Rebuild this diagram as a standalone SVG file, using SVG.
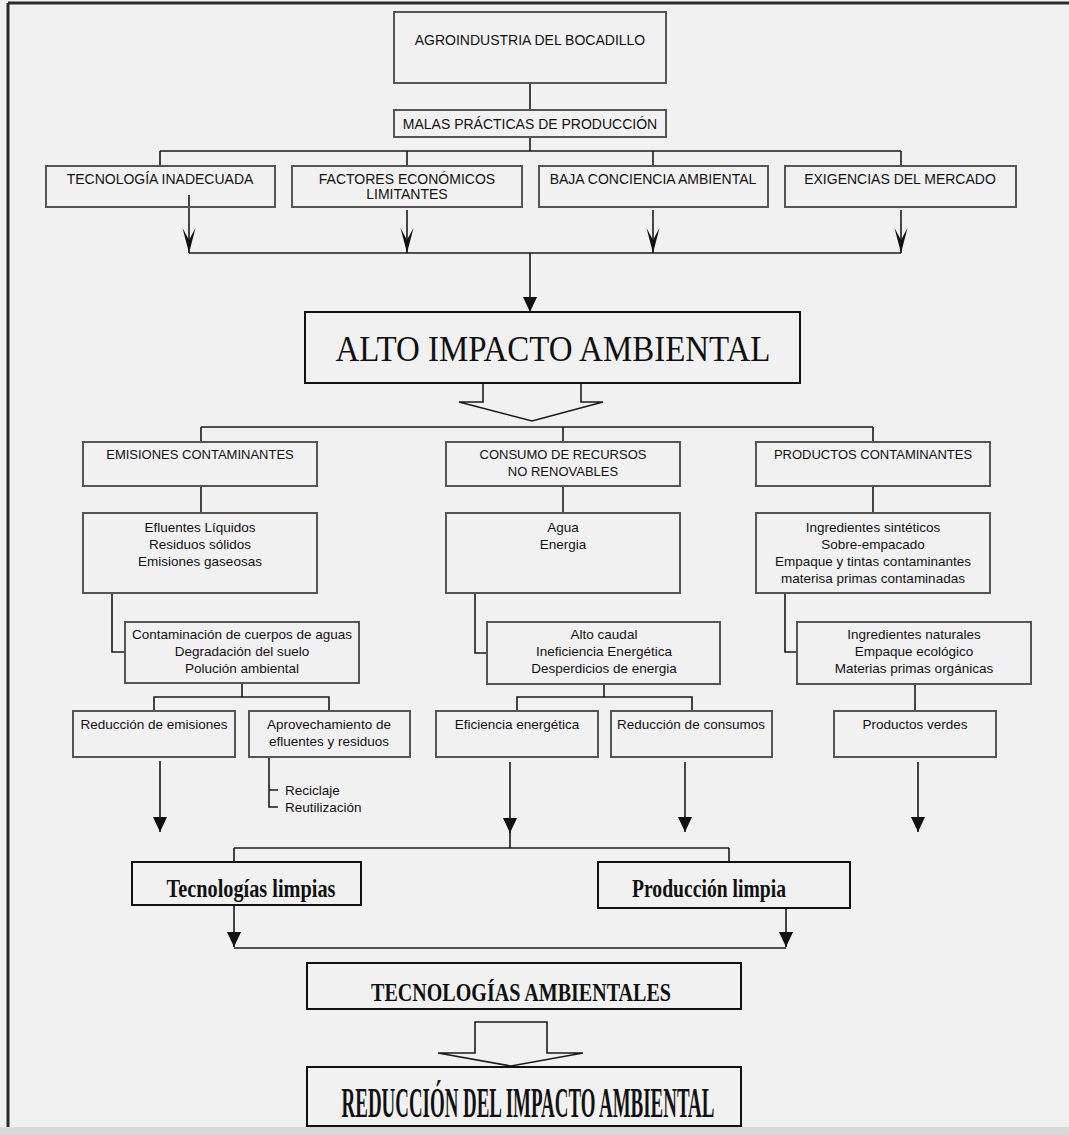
<svg xmlns="http://www.w3.org/2000/svg" width="1069" height="1135" viewBox="0 0 1069 1135">
<style>
.bx{fill:none;stroke:#555;stroke-width:2}
.bk{fill:none;stroke:#111;stroke-width:2}
.t{font-family:"Liberation Sans",Arial,sans-serif;fill:#111;text-anchor:middle}
.l{font-family:"Liberation Sans",Arial,sans-serif;fill:#111;font-size:13.5px}
.u14{font-size:14px}
.u13{font-size:13px}
.m{font-size:13.5px}
.sf{font-family:"Liberation Serif","Times New Roman",serif;fill:#111;text-anchor:middle}
.ln{fill:none;stroke:#1a1a1a;stroke-width:1.6}
</style>
<defs>
<marker id="barb" viewBox="0 0 25 14" markerWidth="25" markerHeight="14" refX="25" refY="7" orient="auto" markerUnits="userSpaceOnUse">
<path d="M25,7 L0,0.5 L12,7 L0,13.5 Z" fill="#111"/>
</marker>
<marker id="tri" viewBox="0 0 15 14" markerWidth="15" markerHeight="14" refX="15" refY="7" orient="auto" markerUnits="userSpaceOnUse">
<path d="M15,7 L0,0 L0,14 Z" fill="#111"/>
</marker>
</defs>
<rect x="0" y="0" width="1069" height="1135" fill="#f1f1f1"/>
<rect x="0" y="1127" width="1069" height="8" fill="#d9d9d9"/>
<path d="M8,3 H1069 M8,3 V1127" fill="none" stroke="#2a2a2a" stroke-width="3"/>
<g id="connectors">
<path class="ln" d="M530,83 V110 M530,137 V151 M160,151 H901 M160,151 V166 M407,151 V166 M653,151 V166 M901,151 V166"/>
<path class="ln" marker-end="url(#barb)" d="M189,195 V253"/>
<path class="ln" marker-end="url(#barb)" d="M407,210 V253"/>
<path class="ln" marker-end="url(#barb)" d="M653,210 V253"/>
<path class="ln" marker-end="url(#barb)" d="M901,210 V253"/>
<path class="ln" d="M189,253 H901"/>
<path class="ln" marker-end="url(#tri)" d="M530,253 V312"/>
<path class="ln" d="M483,383 V402 H459 L532,421 L603,402 H581 V383"/>
<path class="ln" d="M201,427 H873 M201,427 V442 M563,427 V442 M873,427 V442"/>
<path class="ln" d="M201,486 V513 M563,486 V513 M873,486 V513"/>
<path class="ln" d="M112,593 V652 H125 M475,593 V653 H487 M785,593 V652 H797"/>
<path class="ln" d="M242,683 V697 M154,711 V697 H329 V711 M604,684 V697 M517,711 V697 H692 V711 M915,684 V711"/>
<path class="ln" d="M269,757 V807 H278 M269,790 H278"/>
<path class="ln" marker-end="url(#tri)" d="M160,761 V832"/>
<path class="ln" marker-end="url(#tri)" d="M510,762 V833"/>
<path class="ln" d="M510,830 V848"/>
<path class="ln" marker-end="url(#tri)" d="M685,762 V832"/>
<path class="ln" marker-end="url(#tri)" d="M918,762 V832"/>
<path class="ln" d="M234,848 H729 M234,848 V862 M729,848 V862"/>
<path class="ln" marker-end="url(#tri)" d="M234,905 V947"/>
<path class="ln" marker-end="url(#tri)" d="M786,908 V947"/>
<path class="ln" d="M234,948 H786"/>
<path class="ln" d="M475,1022 H547 V1053 H583 L511,1066 L438,1053 H475 Z"/>
</g>
<g id="agroindustria"><rect class="bx" x="394" y="12" width="272" height="71"/><text class="t u14" x="530" y="45">AGROINDUSTRIA DEL BOCADILLO</text></g>
<g id="malas-practicas"><rect class="bx" x="394" y="110" width="272" height="27"/><text class="t u14" x="530" y="129">MALAS PRÁCTICAS DE PRODUCCIÓN</text></g>
<g id="tecnologia-inadecuada"><rect class="bx" x="46" y="166" width="229" height="41"/><text class="t u14" x="160" y="184">TECNOLOGÍA INADECUADA</text></g>
<g id="factores-economicos"><rect class="bx" x="292" y="166" width="230" height="41"/><text class="t u14" x="407" y="184">FACTORES ECONÓMICOS</text><text class="t u14" x="407" y="199">LIMITANTES</text></g>
<g id="baja-conciencia"><rect class="bx" x="539" y="166" width="229" height="41"/><text class="t u14" x="653" y="184">BAJA CONCIENCIA AMBIENTAL</text></g>
<g id="exigencias-mercado"><rect class="bx" x="785" y="166" width="231" height="41"/><text class="t u14" x="900" y="184">EXIGENCIAS DEL MERCADO</text></g>
<g id="alto-impacto"><rect class="bk" x="305" y="312" width="495" height="71"/><text class="sf" x="553" y="361" font-size="36" textLength="435" lengthAdjust="spacingAndGlyphs">ALTO IMPACTO AMBIENTAL</text></g>
<g id="emisiones"><rect class="bx" x="83" y="442" width="234" height="44"/><text class="t u13" x="200" y="459">EMISIONES CONTAMINANTES</text></g>
<g id="consumo-recursos"><rect class="bx" x="446" y="442" width="234" height="44"/><text class="t u13" x="563" y="459">CONSUMO DE RECURSOS</text><text class="t u13" x="563" y="476">NO RENOVABLES</text></g>
<g id="productos-contaminantes"><rect class="bx" x="756" y="442" width="234" height="44"/><text class="t u13" x="873" y="459">PRODUCTOS CONTAMINANTES</text></g>
<g id="efluentes"><rect class="bx" x="83" y="513" width="234" height="80"/><text class="t m" x="200" y="532">Efluentes Líquidos</text><text class="t m" x="200" y="549">Residuos sólidos</text><text class="t m" x="200" y="566">Emisiones gaseosas</text></g>
<g id="agua-energia"><rect class="bx" x="446" y="513" width="234" height="80"/><text class="t m" x="563" y="532">Agua</text><text class="t m" x="563" y="549">Energia</text></g>
<g id="ingredientes-sinteticos"><rect class="bx" x="756" y="513" width="234" height="80"/><text class="t m" x="873" y="532">Ingredientes sintéticos</text><text class="t m" x="873" y="549">Sobre-empacado</text><text class="t m" x="873" y="566">Empaque y tintas contaminantes</text><text class="t m" x="873" y="583">materisa primas contaminadas</text></g>
<g id="contaminacion"><rect class="bx" x="125" y="622" width="234" height="61"/><text class="t m" x="242" y="639">Contaminación de cuerpos de aguas</text><text class="t m" x="242" y="656">Degradación del suelo</text><text class="t m" x="242" y="673">Polución ambiental</text></g>
<g id="alto-caudal"><rect class="bx" x="487" y="622" width="233" height="62"/><text class="t m" x="604" y="639">Alto caudal</text><text class="t m" x="604" y="656">Ineficiencia Energética</text><text class="t m" x="604" y="673">Desperdicios de energia</text></g>
<g id="ingredientes-naturales"><rect class="bx" x="797" y="622" width="234" height="62"/><text class="t m" x="914" y="639">Ingredientes naturales</text><text class="t m" x="914" y="656">Empaque ecológico</text><text class="t m" x="914" y="673">Materias primas orgánicas</text></g>
<g id="reduccion-emisiones"><rect class="bx" x="73" y="711" width="162" height="46"/><text class="t m" x="154" y="729">Reducción de emisiones</text></g>
<g id="aprovechamiento"><rect class="bx" x="249" y="711" width="161" height="46"/><text class="t m" x="329" y="729">Aprovechamiento de</text><text class="t m" x="329" y="746">efluentes y residuos</text></g>
<g id="reciclaje"><text class="l" x="285" y="795">Reciclaje</text><text class="l" x="285" y="812">Reutilización</text></g>
<g id="eficiencia-energetica"><rect class="bx" x="436" y="711" width="162" height="46"/><text class="t m" x="517" y="729">Eficiencia energética</text></g>
<g id="reduccion-consumos"><rect class="bx" x="611" y="711" width="161" height="46"/><text class="t m" x="691" y="729">Reducción de consumos</text></g>
<g id="productos-verdes"><rect class="bx" x="834" y="711" width="162" height="46"/><text class="t m" x="915" y="729">Productos verdes</text></g>
<g id="tecnologias-limpias"><rect class="bk" x="132" y="862" width="229" height="43"/><text class="sf" x="251" y="897" font-size="25" font-weight="bold" textLength="169" lengthAdjust="spacingAndGlyphs">Tecnologías limpias</text></g>
<g id="produccion-limpia"><rect class="bk" x="598" y="862" width="252" height="46"/><text class="sf" x="709" y="897" font-size="25" font-weight="bold" textLength="154" lengthAdjust="spacingAndGlyphs">Producción limpia</text></g>
<g id="tecnologias-ambientales"><rect class="bk" x="307" y="963" width="434" height="46"/><text class="sf" x="521" y="1001" font-size="25" font-weight="bold" textLength="300" lengthAdjust="spacingAndGlyphs">TECNOLOGÍAS AMBIENTALES</text></g>
<g id="reduccion-impacto"><rect class="bk" x="307" y="1067" width="434" height="59"/><text class="sf" transform="translate(528,1117) scale(0.43,1)" x="0" y="0" font-size="43" font-weight="bold" textLength="867" lengthAdjust="spacingAndGlyphs">REDUCCIÓN DEL IMPACTO AMBIENTAL</text></g>
</svg>
